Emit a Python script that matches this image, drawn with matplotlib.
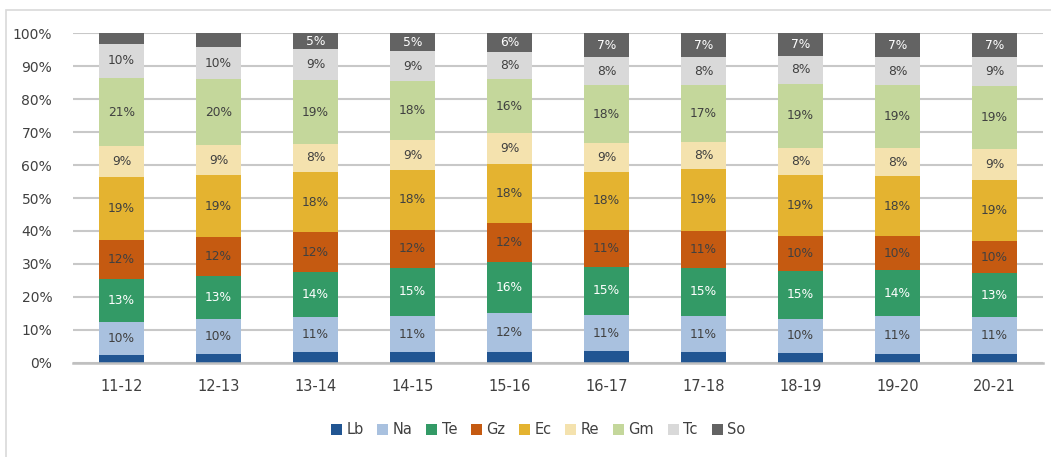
import matplotlib
matplotlib.use("Agg")
import matplotlib.pyplot as plt
import numpy as np
from matplotlib.patches import Rectangle

years = ["11-12", "12-13", "13-14", "14-15", "15-16", "16-17", "17-18", "18-19", "19-20", "20-21"]
series = ["Lb", "Na", "Te", "Gz", "Ec", "Re", "Gm", "Tc", "So"]

Lb = [2.3, 2.7, 3.1, 3.1, 3.3, 3.5, 3.2, 2.9, 2.6, 2.6]
Na = [10.0, 10.4, 10.8, 11.1, 11.8, 11.0, 11.0, 10.4, 11.4, 11.4]
Te = [13.2, 13.2, 13.7, 14.6, 15.6, 14.6, 14.7, 14.6, 14.1, 13.1]
Gz = [11.7, 11.8, 11.9, 11.6, 11.6, 11.2, 11.2, 10.4, 10.2, 9.9]
Ec = [19.1, 18.7, 18.4, 18.1, 18.0, 17.7, 18.6, 18.7, 18.2, 18.6]
Re = [9.4, 9.2, 8.4, 9.1, 9.3, 8.6, 8.4, 8.2, 8.4, 9.4]
Gm = [20.8, 19.9, 19.4, 17.9, 16.4, 17.7, 17.2, 19.4, 19.2, 18.9]
Tc = [10.4, 9.6, 9.4, 9.1, 8.3, 8.4, 8.4, 8.4, 8.4, 8.8]
So = [3.1, 4.3, 4.8, 5.4, 5.7, 7.3, 7.3, 6.9, 7.3, 7.3]

colors = ["#215592", "#A9C1DF", "#339A66", "#C55A11", "#E4B330",
          "#F4E2AE", "#C4D79B", "#D9D9D9", "#636363"]
label_colors = ["#404040", "#404040", "white", "#404040", "#404040",
                "#404040", "#404040", "#404040", "white"]

data = np.array([Lb, Na, Te, Gz, Ec, Re, Gm, Tc, So])
data = data / data.sum(axis=0) * 100

W, H = 1051, 457
fig = plt.figure(figsize=(W / 100, H / 100), dpi=100)
ax = fig.add_axes([73 / W, 1 - 362.7 / H, (1043 - 73) / W, (362.7 - 33.3) / H])

x = np.arange(len(years))
bottom = np.zeros(len(years))
handles = []
for i, name in enumerate(series):
    vals = data[i]
    b = ax.bar(x, vals, 0.455, bottom=bottom, color=colors[i], label=name,
               zorder=3, linewidth=0)
    handles.append(b)
    for xi, v, bt in zip(x, vals, bottom):
        if v >= 4.5:
            ax.text(xi, bt + v / 2, "%.0f%%" % v, ha="center", va="center",
                    fontsize=8.8, color=label_colors[i], zorder=4)
    bottom += vals

ax.set_xlim(-0.5, len(years) - 0.5)
ax.set_ylim(0, 100)
ax.set_yticks(np.arange(0, 101, 10))
ax.set_yticklabels(["%d%%" % v for v in range(0, 101, 10)])
ax.set_xticks(x)
ax.set_xticklabels(years)
ax.tick_params(axis="y", length=0, pad=15, labelsize=10, labelcolor="#404040")
ax.tick_params(axis="x", length=0, pad=12, labelsize=10.5, labelcolor="#404040")
ax.grid(axis="y", color="#C8C8C8", linewidth=1.5, zorder=0)
for s in ["top", "right", "left"]:
    ax.spines[s].set_visible(False)
ax.spines["bottom"].set_color("#BFBFBF")
ax.spines["bottom"].set_linewidth(1.8)
ax.spines["bottom"].set_zorder(5)

leg = fig.legend(handles=handles, labels=series, loc="center",
                 bbox_to_anchor=(538 / W, 1 - 430 / H), ncol=9, frameon=False,
                 fontsize=10.5, handlelength=0.75, handleheight=0.75,
                 handletextpad=0.3, columnspacing=0.95)
for t in leg.get_texts():
    t.set_color("#404040")

fig.patches.append(Rectangle((6 / W, -0.1), 1.2, 1 - 9.5 / H + 0.1,
                             transform=fig.transFigure, fill=False,
                             edgecolor="#D9D9D9", linewidth=1.2))

fig.savefig("out.png", dpi=100)
